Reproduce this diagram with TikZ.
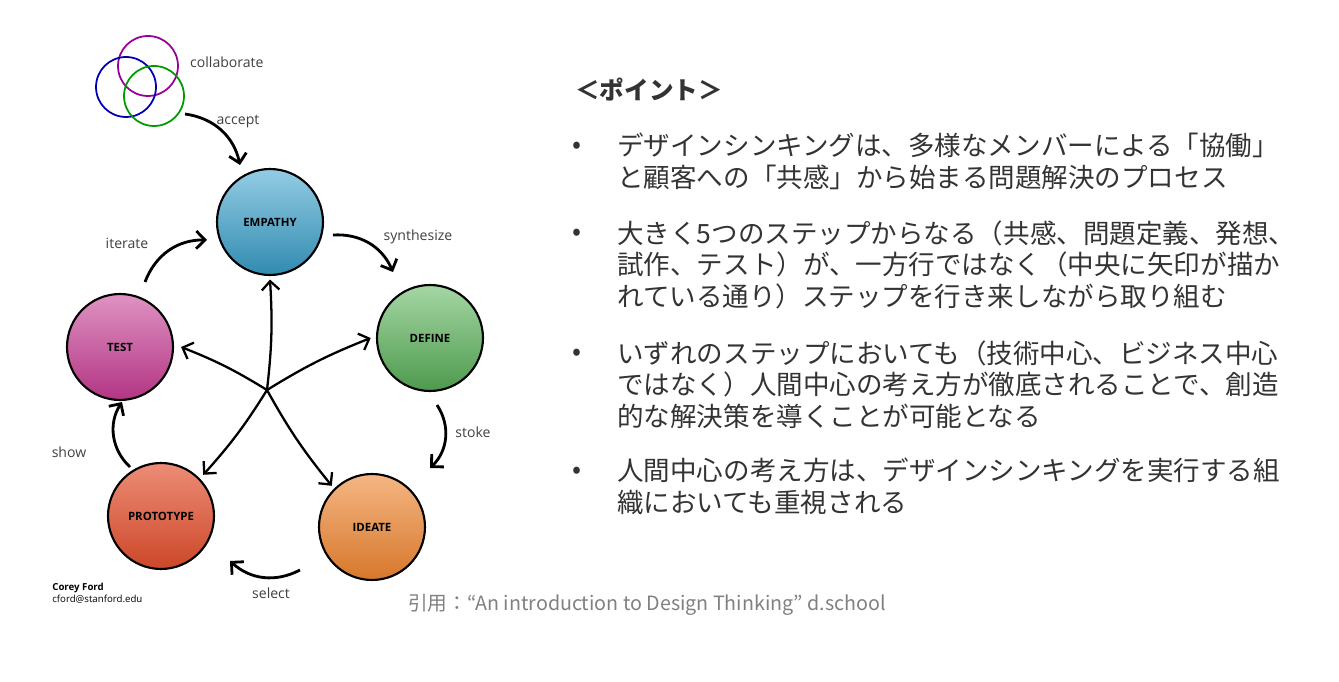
\documentclass[tikz,border=0pt]{standalone}
\usepackage{fontspec}
\setsansfont{Open Sans}
\newfontfamily\cjk{Noto Sans CJK JP}
\usetikzlibrary{arrows.meta}
\usetikzlibrary{positioning}
\definecolor{empc}{HTML}{3AA3CE}
\definecolor{defc}{HTML}{5BB55A}
\definecolor{tstc}{HTML}{C63A92}
\definecolor{proc}{HTML}{E34F2D}
\definecolor{idec}{HTML}{EE8530}
\tikzset{phase/.style={circle, draw=black, line width=1.2pt, minimum size=2.12cm, font=\sffamily\bfseries\fontsize{6.5}{7}\selectfont}}
\tikzset{cyc/.style={draw, line width=1.6pt, -{Straight Barb[length=5pt,width=10pt,line width=1.6pt]}}}
\tikzset{spoke/.style={draw, line width=1.3pt, -{Straight Barb[length=5pt,width=10pt,line width=1.3pt]}}}
\tikzset{lbl/.style={font=\sffamily\fontsize{8}{9}\selectfont, text=black!75}}
\tikzset{point/.style={anchor=north west, align=left, inner sep=0pt, text=black!80, font=\cjk\fontsize{15.1}{18.1}\selectfont}}
\tikzset{dot/.style={inner sep=0pt, text=black!80, font=\cjk\fontsize{15.1}{18.1}\selectfont}}
\begin{document}
\begin{tikzpicture}[x=0.02cm,y=-0.02cm]
\useasboundingbox (0,0) rectangle (1339,682);

%phases
\node[phase, top color=empc!55!white, bottom color=empc!85!black] (empathy) at (270,222) {EMPATHY};
\node[phase, top color=defc!55!white, bottom color=defc!85!black] (define) at (430,338) {DEFINE};
\node[phase, top color=tstc!55!white, bottom color=tstc!90!black] (test) at (120,347) {TEST};
\node[phase, top color=proc!65!white, bottom color=proc!90!black] (prototype) at (161,516) {PROTOTYPE};
\node[phase, top color=idec!60!white, bottom color=idec!90!black] (ideate) at (372,527) {IDEATE};

%team
\node[circle, draw=violet!80!magenta, line width=1pt, minimum size=1.2cm] (c1) at (148,66) {};
\node[circle, draw=blue!70!black, line width=1pt, minimum size=1.2cm] (c2) at (126,87) {};
\node[circle, draw=green!60!black, line width=1pt, minimum size=1.2cm] (c3) at (154,96) {};
\node[lbl, anchor=west] (collab) at (184,62) {collaborate};
\node[lbl] (accept) at (238,122) {accept};

%cycle ends
\coordinate (a0) at (185,114); \coordinate (a1) at (240,165);
\coordinate (s0) at (333,235); \coordinate (s1) at (393,272);
\coordinate (k0) at (437,405); \coordinate (k1) at (430,468);
\coordinate (e0) at (300,570); \coordinate (e1) at (230,561);
\coordinate (h0) at (130,467); \coordinate (h1) at (122,402);
\coordinate (i0) at (145,282); \coordinate (i1) at (207,240);

\path[cyc] (a0) to[bend left=35] (a1);
\node[lbl] (synth) at (418,237) {synthesize};
\path[cyc] (s0) to[bend left=35] (s1);
\node[lbl] (stoke) at (473,432) {stoke};
\path[cyc] (k0) to[bend left=40] (k1);
\node[lbl] (select) at (271,593) {select};
\path[cyc] (e0) to[bend left=35] (e1);
\node[lbl] (show) at (69,452) {show};
\path[cyc] (h0) to[bend left=40] (h1);
\node[lbl] (iterate) at (127,243) {iterate};
\path[cyc] (i0) to[bend left=35] (i1);

%hub
\coordinate (hub) at (267,390);
\path[spoke] (hub) to[bend right=5] ([yshift=-2]empathy.south);
\path[spoke] (hub) to[bend left=5] ([xshift=-3]define.west);
\path[spoke] (hub) to[bend right=5] ([xshift=4]test.east);
\path[spoke] (hub) to[bend left=5] ([shift={(4,-3)}]prototype.north east);
\path[spoke] (hub) to[bend right=5] ([shift={(-2,-3)}]ideate.north west);

\node[font=\sffamily\bfseries\fontsize{5.5}{6}\selectfont, anchor=west, inner sep=0pt] (author) at (52,588) {Corey Ford};
\node[font=\sffamily\fontsize{5.5}{6}\selectfont, inner sep=0pt, below=1pt of author.south west, anchor=north west] (mail) {cford@stanford.edu};

%points
\node[point, font=\cjk\bfseries\fontsize{14}{18.1}\selectfont] (head) at (575,78) {＜ポイント＞};
\node[point] (p1) at (617,133) {デザインシンキングは、多様なメンバーによる「協働」\\と顧客への「共感」から始まる問題解決のプロセス};
\node[point] (p2) at (617,220) {大きく5つのステップからなる（共感、問題定義、発想、\\試作、テスト）が、一方行ではなく（中央に矢印が描か\\れている通り）ステップを行き来しながら取り組む};
\node[point] (p3) at (617,340) {いずれのステップにおいても（技術中心、ビジネス中心\\ではなく）人間中心の考え方が徹底されることで、創造\\的な解決策を導くことが可能となる};
\node[point] (p4) at (617,458) {人間中心の考え方は、デザインシンキングを実行する組\\織においても重視される};
\foreach \p in {p1,p2,p3,p4}
  \node[dot] at ([shift={(-40,15)}]\p.north west) {•};
\node[text=black!50, font=\cjk\fontsize{11.2}{12}\selectfont] (cite) at (647,605) {引用：“An introduction to Design Thinking” d.school};
\end{tikzpicture}
\end{document}
